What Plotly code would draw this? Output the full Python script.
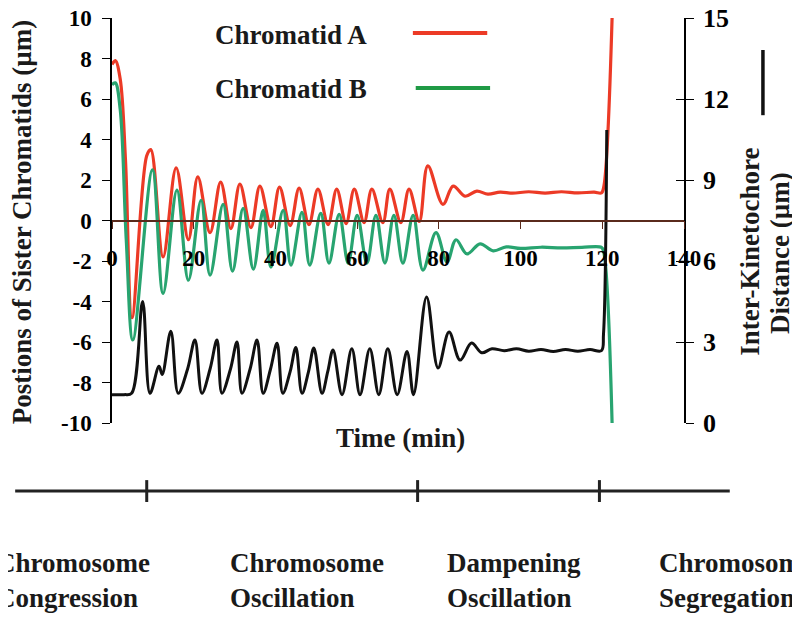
import plotly.graph_objects as go

FONT = "Liberation Serif"

# ---------------- data ----------------
# Chromatid A (red), left axis, time in minutes
a_time = [0, 0.8, 2.0, 3.3, 4.9, 8.5, 9.5, 12.5, 15.7, 18.7, 21.0, 24.0, 26.6, 29.1,
          31.3, 34.0, 36.2, 38.9, 41.0, 43.6, 45.8, 48.2, 50.4, 52.9, 55.0, 57.3,
          59.3, 61.7, 63.6, 66.3, 68.0, 70.7, 72.7, 75.2, 77.3, 81.0, 83.5, 86.4,
          89.3, 92.0, 95.0, 98.0, 102.0, 106.0, 110.0, 114.0, 118.0, 119.8, 120.4, 122.4]
a_pos = [7.7, 7.9, 7.0, 3.0, -4.8, 3.2, 3.5, -1.8, 2.6, -0.95, 2.15, -0.6, 1.9, -0.4,
         1.8, -0.35, 1.7, -0.3, 1.65, -0.25, 1.6, -0.2, 1.55, -0.2, 1.55, -0.15,
         1.55, -0.1, 1.55, -0.1, 1.55, -0.1, 1.55, -0.05, 2.7, 0.8, 1.7, 1.2,
         1.45, 1.3, 1.4, 1.35, 1.42, 1.35, 1.42, 1.36, 1.4, 1.36, 1.7, 10.0]

# Chromatid B (green), left axis
b_time = [0, 0.8, 2.0, 3.5, 5.1, 9.9, 12.5, 15.9, 18.7, 21.8, 24.0, 27.2, 29.5, 32.1,
          34.6, 37.0, 38.9, 41.9, 43.8, 46.5, 48.4, 51.1, 53.1, 55.6, 57.8, 60.0,
          62.4, 64.6, 66.8, 69.0, 71.2, 73.7, 76.1, 79.3, 82.0, 84.2, 86.9, 90.1,
          93.3, 96.5, 100.0, 105.0, 110.0, 115.0, 119.8, 120.4, 122.4]
b_pos = [6.7, 6.8, 5.5, -1.0, -5.9, 2.5, -3.6, 1.5, -2.95, 1.0, -2.7, 0.8, -2.5, 0.6,
         -2.4, 0.5, -2.3, 0.5, -2.2, 0.4, -2.2, 0.35, -2.1, 0.3, -2.1, 0.25,
         -2.1, 0.25, -2.1, 0.25, -2.1, 0.25, -2.45, -0.6, -2.05, -0.95, -1.65, -1.15,
         -1.5, -1.3, -1.38, -1.32, -1.35, -1.33, -1.33, -1.6, -10.0]

# Inter-kinetochore distance (black), right axis
d_time = [0, 3.0, 4.8, 7.5, 9.3, 11.5, 12.3, 14.4, 16.2, 18.5, 20.3, 22.0, 24.0, 25.7,
          26.9, 29.0, 30.6, 31.8, 33.8, 35.5, 37.0, 38.8, 40.4, 41.8, 43.6, 45.0,
          46.5, 48.1, 49.4, 51.4, 52.8, 54.1, 56.3, 58.7, 60.7, 63.1, 65.3, 67.5,
          69.8, 72.2, 73.8, 77.0, 79.8, 82.5, 85.2, 88.0, 90.5, 93.0, 96.0, 99.0,
          102.0, 105.0, 108.0, 111.0, 114.0, 117.0, 119.8, 120.3, 121.1]
d_val = [1.05, 1.05, 1.1, 4.5, 1.1, 2.1, 1.8, 3.4, 1.1, 2.0, 3.07, 1.1, 2.0, 3.07,
         1.1, 2.0, 3.0, 1.1, 2.0, 3.07, 1.1, 2.0, 2.95, 1.1, 1.9, 2.8,
         1.1, 1.9, 2.78, 1.1, 1.9, 2.7, 1.05, 2.75, 1.05, 2.75, 1.05, 2.75,
         1.05, 2.65, 1.05, 4.67, 2.04, 3.37, 2.33, 2.96, 2.6, 2.75, 2.68, 2.75,
         2.66, 2.72, 2.65, 2.72, 2.66, 2.72, 2.68, 3.3, 10.85]

time_ticks = [0, 20, 40, 60, 80, 100, 120, 140]
time_tick_text = ["0", "20", "40", "60", "80", "100", "120", "140"]
left_ticks = [-10, -8, -6, -4, -2, 0, 2, 4, 6, 8, 10]
left_tick_text = ["-10", "-8", "-6", "-4", "-2", "0", "2", "4", "6", "8", "10"]
right_ticks = [0, 3, 6, 9, 12, 15]
right_tick_text = ["0", "3", "6", "9", "12", "15"]

phase_bounds = [8.5, 74.8, 119.3]          # minutes
phase_text = ["Chromosome<br>Congression", "Chromosome<br>Oscillation",
              "Dampening<br>Oscillation", "Chromosome<br>Segregation"]
phase_text_start = [-28.9, 28.4, 81.5, 133.4]  # minutes (left edge of label)

RED = "#ec3a26"
GREEN = "#28a470"
GREEN_LEG = "#1f9a45"
BLACK = "#111111"

X_MAX = 140.0


def px(t):
    return t / X_MAX


fig = go.Figure()
fig.add_trace(go.Scatter(x=a_time, y=a_pos, mode="lines", name="Chromatid A",
                         line=dict(color=RED, width=3.2, shape="spline", smoothing=1.0),
                         yaxis="y"))
fig.add_trace(go.Scatter(x=b_time, y=b_pos, mode="lines", name="Chromatid B",
                         line=dict(color=GREEN, width=3.2, shape="spline", smoothing=1.0),
                         yaxis="y"))
fig.add_trace(go.Scatter(x=d_time, y=d_val, mode="lines", name="Inter-Kinetochore Distance",
                         line=dict(color=BLACK, width=3, shape="spline", smoothing=1.0),
                         yaxis="y2"))
fig.add_trace(go.Scatter(x=[None], y=[None], yaxis="y3", showlegend=False,
                         hoverinfo="skip"))

tickfont = dict(family=FONT, size=23, color="black", weight="bold")
rtickfont = dict(family=FONT, size=26, color="black", weight="bold")

# the page body adds an 8px offset; margins compensate so the plot lands
# at x 112..684, y 18..423 of the 800x620 window
fig.update_layout(
    width=800, height=620,
    margin=dict(l=104, r=124, t=10, b=205, pad=0, autoexpand=False),
    paper_bgcolor="white", plot_bgcolor="white",
    showlegend=False,
    xaxis=dict(range=[0, X_MAX], domain=[0, 1], anchor="free", position=0.5,
               showline=True, linecolor="#5a2a1c", linewidth=1.5,
               ticks="outside", ticklen=8, tickcolor="#5a2a1c", tickwidth=1.2,
               tickvals=time_ticks, ticktext=time_tick_text, tickfont=tickfont,
               ticklabelstandoff=9, ticklabeloverflow="allow",
               showgrid=False, zeroline=False, automargin=False),
    yaxis=dict(range=[-10, 10], domain=[0, 1], showline=True, linecolor="black",
               linewidth=1.5, ticks="outside", ticklen=8, tickwidth=1.2,
               tickcolor="black", tickvals=left_ticks, ticktext=left_tick_text,
               tickfont=tickfont, ticklabelstandoff=6, ticklabeloverflow="allow",
               showgrid=False, zeroline=False, automargin=False),
    yaxis2=dict(range=[0, 15], overlaying="y", side="right", anchor="x",
                showline=True, linecolor="black", linewidth=1.5,
                ticks="outside", ticklen=8, tickwidth=1.2, tickcolor="black",
                tickvals=right_ticks, ticktext=right_tick_text, tickfont=rtickfont,
                ticklabelstandoff=4, ticklabeloverflow="allow",
                showgrid=False, zeroline=False, automargin=False),
    yaxis3=dict(range=[0, 15], overlaying="y", side="right", anchor="x",
                showline=False, ticks="inside", ticklen=8, tickwidth=1.2,
                tickcolor="black", tickvals=right_ticks, showticklabels=False,
                showgrid=False, zeroline=False, automargin=False),
)

big = dict(family=FONT, size=27, color="#1a1a1a", weight="bold")

ann = []
ann.append(dict(text="Postions of Sister Chromatids (µm)", x=-0.157, y=0.496,
                xref="paper", yref="paper", textangle=-90, showarrow=False,
                font=big, xanchor="center", yanchor="middle"))
ann.append(dict(text="Time (min)", x=0.5035, y=-0.037, xref="paper", yref="paper",
                showarrow=False, font=big, xanchor="center", yanchor="middle"))
ann.append(dict(text="Inter-Kinetochore", x=1.115, y=0.422, xref="paper", yref="paper",
                textangle=-90, showarrow=False, font=big, xanchor="center", yanchor="middle"))
ann.append(dict(text="Distance (µm)", x=1.168, y=0.42, xref="paper", yref="paper",
                textangle=-90, showarrow=False, font=big, xanchor="center", yanchor="middle"))
ann.append(dict(text="Chromatid A", x=0.1766, y=0.958, xref="paper", yref="paper",
                showarrow=False, font=big, xanchor="left", yanchor="middle"))
ann.append(dict(text="Chromatid B", x=0.1766, y=0.825, xref="paper", yref="paper",
                showarrow=False, font=big, xanchor="left", yanchor="middle"))
for txt, t0 in zip(phase_text, phase_text_start):
    ann.append(dict(text=txt, x=px(t0), y=-0.39, xref="paper", yref="paper",
                    showarrow=False, font=big, xanchor="left", yanchor="middle",
                    align="left"))

shapes = []
shapes.append(dict(type="line", xref="paper", yref="paper", x0=0.526, x1=0.656,
                   y0=0.963, y1=0.963, line=dict(color=RED, width=4)))
shapes.append(dict(type="line", xref="paper", yref="paper", x0=0.531, x1=0.661,
                   y0=0.827, y1=0.827, line=dict(color=GREEN_LEG, width=4)))
shapes.append(dict(type="line", xref="paper", yref="paper", x0=1.138, x1=1.138,
                   y0=0.921, y1=0.760, line=dict(color=BLACK, width=3.5)))
shapes.append(dict(type="line", xref="paper", yref="paper", x0=px(-23.7), x1=px(151.2),
                   y0=-0.168, y1=-0.168, line=dict(color="#222222", width=3)))
for b in phase_bounds:
    shapes.append(dict(type="line", xref="paper", yref="paper", x0=px(b), x1=px(b),
                       y0=-0.141, y1=-0.195, line=dict(color="#222222", width=3)))

fig.update_layout(annotations=ann, shapes=shapes)

fig.write_html("out.html")
